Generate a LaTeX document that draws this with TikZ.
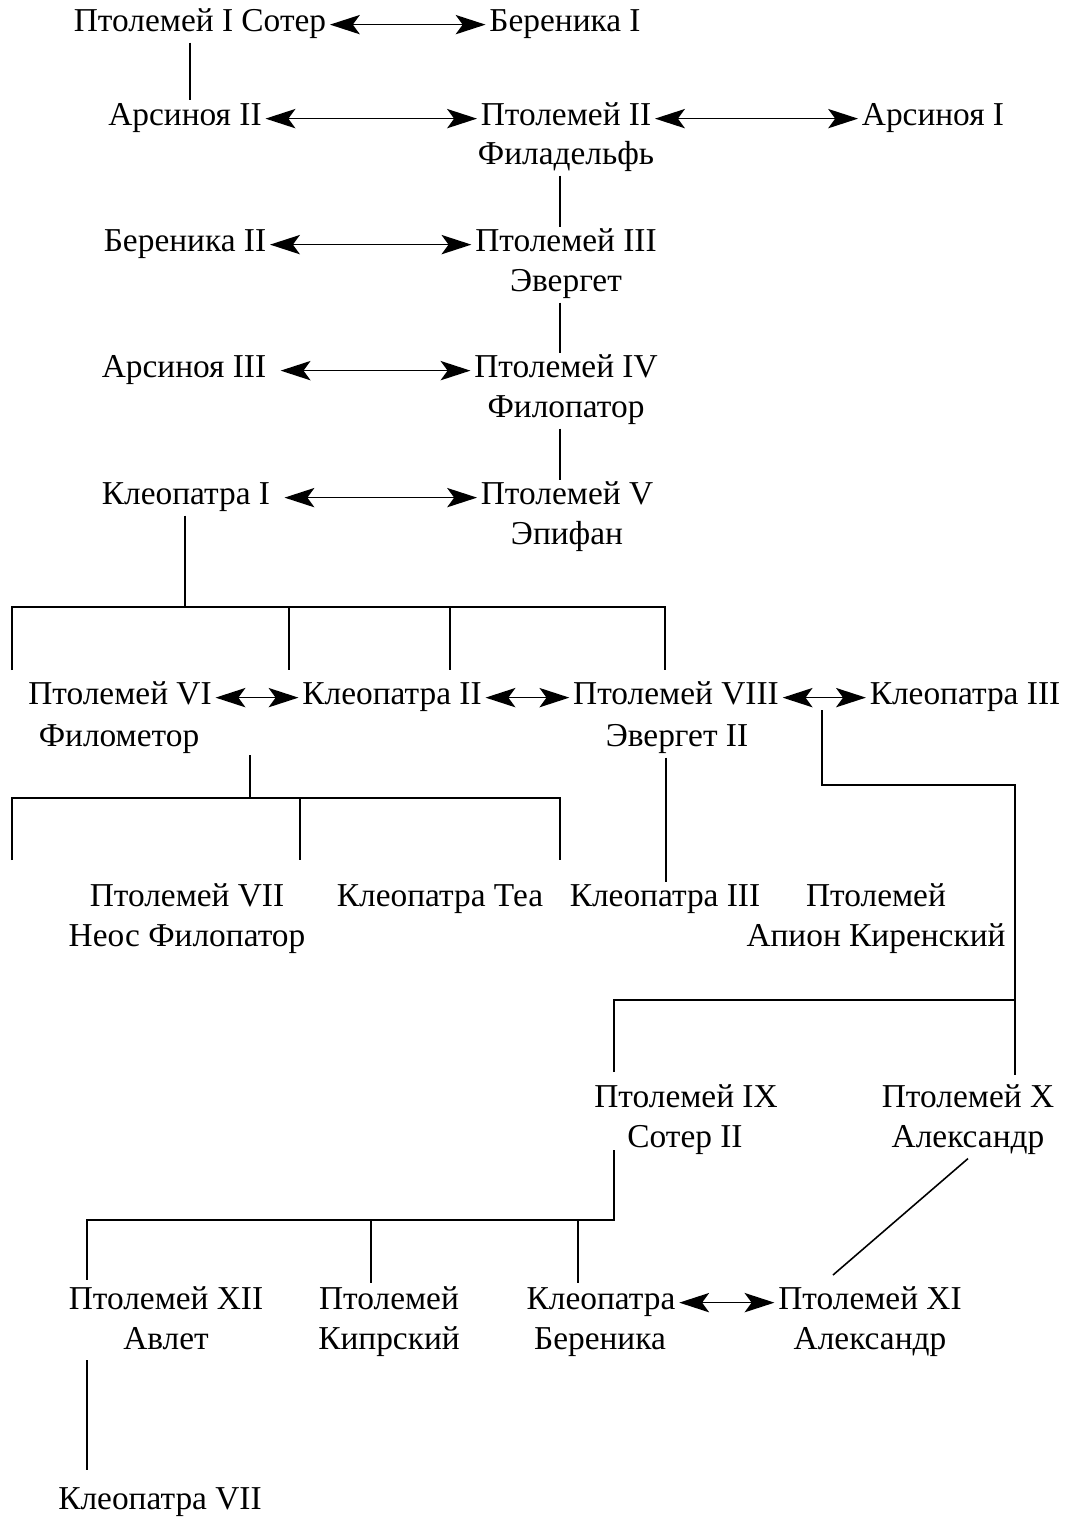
\documentclass[tikz,border=0pt]{standalone}
\usepackage{fontspec}
\setmainfont{Liberation Serif}
\usepackage{tikz}
\usetikzlibrary{positioning,arrows.meta}

\begin{document}
\begin{tikzpicture}[x=0.02cm, y=-0.02cm,
                every node/.style={inner sep=2pt, yshift=-1.5pt, text height=12pt, text depth=4pt, font=\fontsize{19}{23}\selectfont},
                marr/.style={line width=0.8pt, {Stealth[length=17pt,width=11pt,inset=4pt]}-{Stealth[length=17pt,width=11pt,inset=4pt]}},
                kin/.style={line width=0.9pt}]
                \useasboundingbox (0,0) rectangle (1071,1517);

                % First generations
                \node (p1) at (200,22) {Птолемей I Сотер};
                \node (ber1) at (565,22) {Береника I};
                \node (ars2) at (185,116) {Арсиноя II};
                \node (p2) at (566,116) {Птолемей II};
                \node (p2b) at (566,155) {Филадельфь};
                \node (ars1) at (933,116) {Арсиноя I};
                \node (ber2) at (185,242) {Береника II};
                \node (p3) at (566,242) {Птолемей III};
                \node (p3b) at (566,282) {Эвергет};
                \node (ars3) at (184,368) {Арсиноя III};
                \node (p4) at (566,368) {Птолемей IV};
                \node (p4b) at (566,408) {Филопатор};
                \node (kl1) at (186,495) {Клеопатра I};
                \node (p5) at (567,495) {Птолемей V};
                \node (p5b) at (567,535) {Эпифан};

                \draw[marr] (p1) -- (ber1);
                \draw[marr] (ars2) -- (p2);
                \draw[marr] (p2) -- (ars1);
                \draw[marr] (ber2) -- (p3);
                \draw[marr, shorten <=6pt] (ars3) -- (p4);
                \draw[marr, shorten <=6pt] (kl1) -- (p5);

                \draw[kin] (p1.south -| 190,0) -- (190,100);
                \draw[kin] (p2b.south -| 560,0) -- (p3.north -| 560,0);
                \draw[kin] (p3b.south -| 560,0) -- (p4.north -| 560,0);
                \draw[kin] (p4b.south -| 560,0) -- (p5.north -| 560,0);

                % Children of Cleopatra I
                \draw[kin] (kl1.south -| 185,0) -- (185,607);
                \draw[kin] (12,670) |- (665,607) -- (665,670);
                \draw[kin] (289,607) -- (289,670);
                \draw[kin] (450,607) -- (450,670);

                \node (p6) at (120,695) {Птолемей VI};
                \node (p6b) at (119,737) {Филометор};
                \node (kl2) at (392,695) {Клеопатра II};
                \node (p8) at (676,695) {Птолемей VIII};
                \node (p8b) at (677,737) {Эвергет II};
                \node (kl3) at (965,695) {Клеопатра III};

                \draw[marr] (p6) -- (kl2);
                \draw[marr] (kl2) -- (p8);
                \draw[marr] (p8) -- (kl3);

                % Next generation
                \node (p7) at (187,897) {Птолемей VII};
                \node (p7b) at (187,937) {Неос Филопатор};
                \node (klt) at (440,897) {Клеопатра Теа};
                \node (kl3b) at (665,897) {Клеопатра III};
                \node (pa) at (876,897) {Птолемей};
                \node (pab) at (876,937) {Апион Киренский};

                \draw[kin] (250,755) -- (250,798);
                \draw[kin] (12,860) |- (560,798) -- (560,860);
                \draw[kin] (300,798) -- (300,860);
                \draw[kin] (p8b.south -| 666,0) -- (kl3b.north -| 666,0);
                \draw[kin] (822,710) |- (1015,785) -- (1015,1075);
                \draw[kin] (614,1072) |- (1015,1000);

                \node (p9) at (686,1098) {Птолемей IX};
                \node (p9b) at (685,1138) {Сотер II};
                \node (p10) at (968,1098) {Птолемей X};
                \node (p10b) at (968,1138) {Александр};

                % Last generations
                \node (p12) at (166,1300) {Птолемей XII};
                \node (p12b) at (166,1340) {Авлет};
                \node (pk) at (389,1300) {Птолемей};
                \node (pkb) at (389,1340) {Кипрский};
                \node (klb) at (601,1300) {Клеопатра};
                \node (klbb) at (600,1340) {Береника};
                \node (p11) at (870,1300) {Птолемей XI};
                \node (p11b) at (870,1340) {Александр};
                \node (kl7) at (160,1500) {Клеопатра VII};

                \draw[kin] (614,1150) |- (87,1220) -- (87,1280);
                \draw[kin] (371,1220) -- (371,1283);
                \draw[kin] (578,1220) -- (578,1283);
                \draw[kin] (p10b.south) -- (833,1275);
                \draw[marr] (klb) -- (p11);
                \draw[kin] (87,1360) -- (87,1470);
\end{tikzpicture}
\end{document}
